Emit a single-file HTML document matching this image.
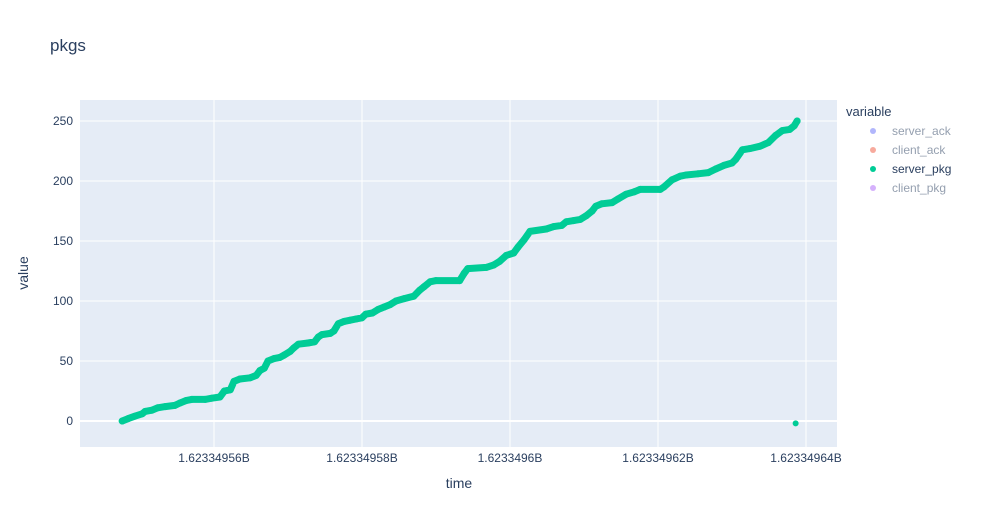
<!DOCTYPE html>
<html><head><meta charset="utf-8"><style>
body{margin:0;background:#fff;font-family:"Liberation Sans",Arial,sans-serif}
svg text{font-family:"Liberation Sans",Arial,sans-serif}
</style></head><body>
<svg id="chart" width="985" height="525">
<rect x="0" y="0" width="985" height="525" fill="#fff"/>
<text x="50" y="51" font-size="17" fill="#2a3f5f">pkgs</text>
<rect x="80" y="100" width="757" height="347" fill="#e5ecf6"/>
<g id="grid"></g><g id="ticks"></g><g id="series"></g>
<text x="459" y="488" font-size="14" fill="#2a3f5f" text-anchor="middle">time</text>
<text x="0" y="0" font-size="14" fill="#2a3f5f" text-anchor="middle" transform="translate(28,273) rotate(-90)">value</text>
<g>
<text x="846" y="116" font-size="13" fill="#2a3f5f">variable</text>
<g><circle cx="873" cy="131" r="3" fill="#636efa" opacity="0.5"/><text x="892" y="135" font-size="12" fill="#2a3f5f" opacity="0.5">server_ack</text></g>
<g><circle cx="873" cy="150" r="3" fill="#EF553B" opacity="0.5"/><text x="892" y="154" font-size="12" fill="#2a3f5f" opacity="0.5">client_ack</text></g>
<g><circle cx="873" cy="169" r="3" fill="#00cc96"/><text x="892" y="173" font-size="12" fill="#2a3f5f">server_pkg</text></g>
<g><circle cx="873" cy="188" r="3" fill="#ab63fa" opacity="0.5"/><text x="892" y="192" font-size="12" fill="#2a3f5f" opacity="0.5">client_pkg</text></g>
</g>
</svg>
<script>
// data (time offsets in seconds from 1623349500)
const times = [47.6,48.4,49.3,50.3,50.7,51.6,52.4,53.4,54.7,55.4,56.2,57.0,58.8,59.7,60.8,61.4,62.2,62.7,63.5,64.9,65.7,66.2,66.8,67.3,68.1,68.9,69.5,70.3,70.8,71.4,72.7,73.6,74.1,74.6,75.7,76.2,76.8,77.6,78.4,79.2,80.0,80.5,81.4,82.2,83.0,83.8,84.6,85.7,87.0,87.8,88.4,89.2,90.0,93.2,93.8,94.3,96.8,97.8,98.6,99.5,100.5,101.1,101.9,102.7,104.9,105.9,107.0,107.6,108.6,109.5,110.3,111.1,111.6,112.4,113.8,114.6,115.7,116.8,117.6,120.3,120.8,121.9,123.0,123.8,125.4,126.8,127.8,128.9,130.0,130.5,131.4,132.4,133.8,134.9,135.9,136.8,137.8,138.4,138.8];
const values = [0,2,4,6,8,9,11,12,13,15,17,18,18,19,20,25,26,33,35,36,38,42,44,50,52,53,55,58,61,64,65,66,70,72,73,75,81,83,84,85,86,89,90,93,95,97,100,102,104,109,112,116,117,117,123,127,128,130,133,138,140,145,151,158,160,162,163,166,167,168,171,175,179,181,182,185,189,191,193,193,195,201,204,205,206,207,210,213,215,218,226,227,229,232,238,242,243,246,250];
const outlierTimes = [138.6];
const outlierValues = [-2];
const xTicks = [60,80,100,120,140];
const xTickLabels = ["1.62334956B","1.62334958B","1.6233496B","1.62334962B","1.62334964B"];
const yTicks = [0,50,100,150,200,250];
const yTickLabels = ["0","50","100","150","200","250"];

const X = t => 214 + (t-60)*7.4;
const Y = v => 421 - v*1.2;
const NS="http://www.w3.org/2000/svg";
const mk=(tag,attrs,parent)=>{const e=document.createElementNS(NS,tag);for(const k in attrs)e.setAttribute(k,attrs[k]);parent.appendChild(e);return e;};
const grid=document.getElementById('grid'), ticks=document.getElementById('ticks'), series=document.getElementById('series');
yTicks.forEach((v,i)=>{
  const l=mk('line',{x1:80,x2:837,y1:Y(v),y2:Y(v),stroke:'#fff','stroke-width':v===0?2:1},grid);
  
  
  const t=mk('text',{x:73,y:Y(v)+4,'font-size':12,fill:'#2a3f5f','text-anchor':'end'},ticks);
  t.textContent=yTickLabels[i];
  
  
});
xTicks.forEach((v,i)=>{
  const l=mk('line',{x1:X(v),x2:X(v),y1:100,y2:447,stroke:'#fff','stroke-width':1},grid);
  
  
  const t=mk('text',{x:X(v),y:462,'font-size':12,fill:'#2a3f5f','text-anchor':'middle'},ticks);
  t.textContent=xTickLabels[i];
  
  
});
const n=Math.min(times.length,values.length);
let d='';
for(let i=0;i<n;i++) d+=(i?'L':'M')+X(times[i]).toFixed(1)+','+Y(values[i]).toFixed(1);
const p=mk('path',{d:d,fill:'none',stroke:'#00cc96','stroke-width':7,'stroke-linejoin':'round','stroke-linecap':'round'},series);


for(let i=0;i<n;i++){
  const c=mk('circle',{cx:X(times[i]),cy:Y(values[i]),r:3.5,fill:'#00cc96'},series);
  
  
}
outlierTimes.forEach((t,i)=>{
  const c=mk('circle',{cx:X(t),cy:Y(outlierValues[i]),r:3,fill:'#00cc96'},series);
  
  
});
</script>
</body></html>
